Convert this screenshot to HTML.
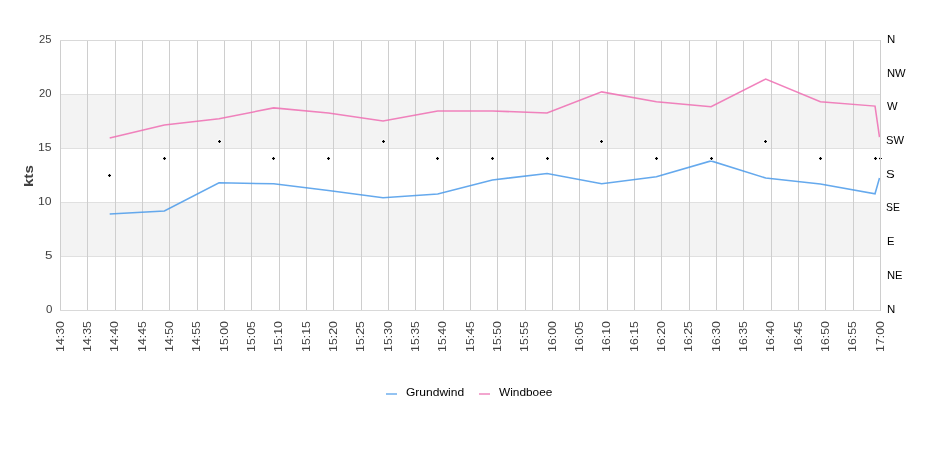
<!DOCTYPE html>
<html><head><meta charset="utf-8"><style>html,body{margin:0;padding:0;background:#fff;overflow:hidden}svg{display:block;will-change:transform}</style></head>
<body><svg width="940" height="450" viewBox="0 0 940 450"><rect x="0" y="0" width="940" height="450" fill="#fff"/>
<rect x="60" y="95" width="820" height="53" fill="#f3f3f3"/>
<rect x="60" y="203" width="820" height="53" fill="#f3f3f3"/>
<rect x="60" y="94" width="821" height="1" fill="#e0e0e0"/>
<rect x="60" y="148" width="821" height="1" fill="#e0e0e0"/>
<rect x="60" y="202" width="821" height="1" fill="#e0e0e0"/>
<rect x="60" y="256" width="821" height="1" fill="#e0e0e0"/>
<rect x="60" y="40" width="1" height="271" fill="#cecece"/>
<rect x="87" y="40" width="1" height="271" fill="#cecece"/>
<rect x="115" y="40" width="1" height="271" fill="#cecece"/>
<rect x="142" y="40" width="1" height="271" fill="#cecece"/>
<rect x="169" y="40" width="1" height="271" fill="#cecece"/>
<rect x="197" y="40" width="1" height="271" fill="#cecece"/>
<rect x="224" y="40" width="1" height="271" fill="#cecece"/>
<rect x="251" y="40" width="1" height="271" fill="#cecece"/>
<rect x="279" y="40" width="1" height="271" fill="#cecece"/>
<rect x="306" y="40" width="1" height="271" fill="#cecece"/>
<rect x="333" y="40" width="1" height="271" fill="#cecece"/>
<rect x="361" y="40" width="1" height="271" fill="#cecece"/>
<rect x="388" y="40" width="1" height="271" fill="#cecece"/>
<rect x="415" y="40" width="1" height="271" fill="#cecece"/>
<rect x="443" y="40" width="1" height="271" fill="#cecece"/>
<rect x="470" y="40" width="1" height="271" fill="#cecece"/>
<rect x="497" y="40" width="1" height="271" fill="#cecece"/>
<rect x="525" y="40" width="1" height="271" fill="#cecece"/>
<rect x="552" y="40" width="1" height="271" fill="#cecece"/>
<rect x="579" y="40" width="1" height="271" fill="#cecece"/>
<rect x="607" y="40" width="1" height="271" fill="#cecece"/>
<rect x="634" y="40" width="1" height="271" fill="#cecece"/>
<rect x="661" y="40" width="1" height="271" fill="#cecece"/>
<rect x="689" y="40" width="1" height="271" fill="#cecece"/>
<rect x="716" y="40" width="1" height="271" fill="#cecece"/>
<rect x="743" y="40" width="1" height="271" fill="#cecece"/>
<rect x="771" y="40" width="1" height="271" fill="#cecece"/>
<rect x="798" y="40" width="1" height="271" fill="#cecece"/>
<rect x="825" y="40" width="1" height="271" fill="#cecece"/>
<rect x="853" y="40" width="1" height="271" fill="#cecece"/>
<rect x="880" y="40" width="1" height="271" fill="#cecece"/>
<rect x="60" y="40" width="821" height="1" fill="#d9d9d9"/>
<rect x="60" y="310" width="821" height="1" fill="#d9d9d9"/>
<polyline points="109.70,213.90 164.37,210.90 219.03,182.80 273.70,183.80 328.37,190.60 383.03,197.80 437.70,194.00 492.37,179.90 547.03,173.60 601.70,183.70 656.37,176.70 711.03,160.90 765.70,178.00 820.37,183.90 875.03,193.80 879.50,178.00" fill="none" stroke="#4a9aea" stroke-width="1.55" stroke-linejoin="miter" stroke-opacity="0.85"/>
<polyline points="109.70,138.00 164.37,124.90 219.03,118.80 273.70,107.90 328.37,112.90 383.03,121.00 437.70,111.00 492.37,111.00 547.03,112.90 601.70,91.90 656.37,101.80 711.03,106.70 765.70,79.10 820.37,101.80 875.03,106.10 879.50,137.20" fill="none" stroke="#ee6cb2" stroke-width="1.55" stroke-linejoin="miter" stroke-opacity="0.85"/>
<circle cx="109.5" cy="175.5" r="2.4" fill="#fff" opacity="0.7"/>
<path d="M108.0 175.0h3v1h-3z M109.0 174.0h1v3h-1z" fill="#000"/>
<path d="M108.0 174.0h1v1h-1z M110.0 174.0h1v1h-1z M108.0 176.0h1v1h-1z M110.0 176.0h1v1h-1z" fill="#000" opacity="0.15"/>
<circle cx="164.5" cy="158.5" r="2.4" fill="#fff" opacity="0.7"/>
<path d="M163.0 158.0h3v1h-3z M164.0 157.0h1v3h-1z" fill="#000"/>
<path d="M163.0 157.0h1v1h-1z M165.0 157.0h1v1h-1z M163.0 159.0h1v1h-1z M165.0 159.0h1v1h-1z" fill="#000" opacity="0.15"/>
<circle cx="219.5" cy="141.5" r="2.4" fill="#fff" opacity="0.7"/>
<path d="M218.0 141.0h3v1h-3z M219.0 140.0h1v3h-1z" fill="#000"/>
<path d="M218.0 140.0h1v1h-1z M220.0 140.0h1v1h-1z M218.0 142.0h1v1h-1z M220.0 142.0h1v1h-1z" fill="#000" opacity="0.15"/>
<circle cx="273.5" cy="158.5" r="2.4" fill="#fff" opacity="0.7"/>
<path d="M272.0 158.0h3v1h-3z M273.0 157.0h1v3h-1z" fill="#000"/>
<path d="M272.0 157.0h1v1h-1z M274.0 157.0h1v1h-1z M272.0 159.0h1v1h-1z M274.0 159.0h1v1h-1z" fill="#000" opacity="0.15"/>
<circle cx="328.5" cy="158.5" r="2.4" fill="#fff" opacity="0.7"/>
<path d="M327.0 158.0h3v1h-3z M328.0 157.0h1v3h-1z" fill="#000"/>
<path d="M327.0 157.0h1v1h-1z M329.0 157.0h1v1h-1z M327.0 159.0h1v1h-1z M329.0 159.0h1v1h-1z" fill="#000" opacity="0.15"/>
<circle cx="383.5" cy="141.5" r="2.4" fill="#fff" opacity="0.7"/>
<path d="M382.0 141.0h3v1h-3z M383.0 140.0h1v3h-1z" fill="#000"/>
<path d="M382.0 140.0h1v1h-1z M384.0 140.0h1v1h-1z M382.0 142.0h1v1h-1z M384.0 142.0h1v1h-1z" fill="#000" opacity="0.15"/>
<circle cx="437.5" cy="158.5" r="2.4" fill="#fff" opacity="0.7"/>
<path d="M436.0 158.0h3v1h-3z M437.0 157.0h1v3h-1z" fill="#000"/>
<path d="M436.0 157.0h1v1h-1z M438.0 157.0h1v1h-1z M436.0 159.0h1v1h-1z M438.0 159.0h1v1h-1z" fill="#000" opacity="0.15"/>
<circle cx="492.5" cy="158.5" r="2.4" fill="#fff" opacity="0.7"/>
<path d="M491.0 158.0h3v1h-3z M492.0 157.0h1v3h-1z" fill="#000"/>
<path d="M491.0 157.0h1v1h-1z M493.0 157.0h1v1h-1z M491.0 159.0h1v1h-1z M493.0 159.0h1v1h-1z" fill="#000" opacity="0.15"/>
<circle cx="547.5" cy="158.5" r="2.4" fill="#fff" opacity="0.7"/>
<path d="M546.0 158.0h3v1h-3z M547.0 157.0h1v3h-1z" fill="#000"/>
<path d="M546.0 157.0h1v1h-1z M548.0 157.0h1v1h-1z M546.0 159.0h1v1h-1z M548.0 159.0h1v1h-1z" fill="#000" opacity="0.15"/>
<circle cx="601.5" cy="141.5" r="2.4" fill="#fff" opacity="0.7"/>
<path d="M600.0 141.0h3v1h-3z M601.0 140.0h1v3h-1z" fill="#000"/>
<path d="M600.0 140.0h1v1h-1z M602.0 140.0h1v1h-1z M600.0 142.0h1v1h-1z M602.0 142.0h1v1h-1z" fill="#000" opacity="0.15"/>
<circle cx="656.5" cy="158.5" r="2.4" fill="#fff" opacity="0.7"/>
<path d="M655.0 158.0h3v1h-3z M656.0 157.0h1v3h-1z" fill="#000"/>
<path d="M655.0 157.0h1v1h-1z M657.0 157.0h1v1h-1z M655.0 159.0h1v1h-1z M657.0 159.0h1v1h-1z" fill="#000" opacity="0.15"/>
<circle cx="711.5" cy="158.5" r="2.4" fill="#fff" opacity="0.7"/>
<path d="M710.0 158.0h3v1h-3z M711.0 157.0h1v3h-1z" fill="#000"/>
<path d="M710.0 157.0h1v1h-1z M712.0 157.0h1v1h-1z M710.0 159.0h1v1h-1z M712.0 159.0h1v1h-1z" fill="#000" opacity="0.15"/>
<circle cx="765.5" cy="141.5" r="2.4" fill="#fff" opacity="0.7"/>
<path d="M764.0 141.0h3v1h-3z M765.0 140.0h1v3h-1z" fill="#000"/>
<path d="M764.0 140.0h1v1h-1z M766.0 140.0h1v1h-1z M764.0 142.0h1v1h-1z M766.0 142.0h1v1h-1z" fill="#000" opacity="0.15"/>
<circle cx="820.5" cy="158.5" r="2.4" fill="#fff" opacity="0.7"/>
<path d="M819.0 158.0h3v1h-3z M820.0 157.0h1v3h-1z" fill="#000"/>
<path d="M819.0 157.0h1v1h-1z M821.0 157.0h1v1h-1z M819.0 159.0h1v1h-1z M821.0 159.0h1v1h-1z" fill="#000" opacity="0.15"/>
<circle cx="875.5" cy="158.5" r="2.4" fill="#fff" opacity="0.7"/>
<path d="M874.0 158.0h3v1h-3z M875.0 157.0h1v3h-1z" fill="#000"/>
<path d="M874.0 157.0h1v1h-1z M876.0 157.0h1v1h-1z M874.0 159.0h1v1h-1z M876.0 159.0h1v1h-1z" fill="#000" opacity="0.15"/>
<circle cx="880.5" cy="158.5" r="2.4" fill="#fff" opacity="0.7"/>
<path d="M879.0 158.0h3v1h-3z M880.0 157.0h1v3h-1z" fill="#000"/>
<path d="M879.0 157.0h1v1h-1z M881.0 157.0h1v1h-1z M879.0 159.0h1v1h-1z M881.0 159.0h1v1h-1z" fill="#000" opacity="0.15"/>
<rect x="880" y="40" width="1" height="271" fill="#cecece"/>
<rect x="881" y="150" width="6" height="20" fill="#fff"/>
<path d="M881 158h1v1h-1z" fill="#000"/>
<text x="51.50" y="43.00" font-family="Liberation Sans, sans-serif" font-size="11.2" fill="#404040" text-anchor="end">25</text>
<text x="51.50" y="97.00" font-family="Liberation Sans, sans-serif" font-size="11.2" fill="#404040" text-anchor="end">20</text>
<text x="51.50" y="151.00" font-family="Liberation Sans, sans-serif" font-size="11.2" fill="#404040" text-anchor="end" textLength="13.59" lengthAdjust="spacingAndGlyphs">15</text>
<text x="51.50" y="205.00" font-family="Liberation Sans, sans-serif" font-size="11.2" fill="#404040" text-anchor="end" textLength="13.59" lengthAdjust="spacingAndGlyphs">10</text>
<text x="52.50" y="259.00" font-family="Liberation Sans, sans-serif" font-size="11.2" fill="#404040" text-anchor="end" textLength="7.48" lengthAdjust="spacingAndGlyphs">5</text>
<text x="52.50" y="313.00" font-family="Liberation Sans, sans-serif" font-size="11.2" fill="#404040" text-anchor="end" textLength="6.41" lengthAdjust="spacingAndGlyphs">0</text>
<text x="887.00" y="43.00" font-family="Liberation Sans, sans-serif" font-size="11.2" fill="#000" textLength="8.26" lengthAdjust="spacingAndGlyphs">N</text>
<text x="887.00" y="76.75" font-family="Liberation Sans, sans-serif" font-size="11.2" fill="#000">NW</text>
<text x="887.00" y="109.50" font-family="Liberation Sans, sans-serif" font-size="11.2" fill="#000">W</text>
<text x="886.00" y="144.25" font-family="Liberation Sans, sans-serif" font-size="11.2" fill="#000">SW</text>
<text x="886.00" y="178.00" font-family="Liberation Sans, sans-serif" font-size="11.2" fill="#000" textLength="8.71" lengthAdjust="spacingAndGlyphs">S</text>
<text x="886.00" y="210.75" font-family="Liberation Sans, sans-serif" font-size="11.2" fill="#000" textLength="13.87" lengthAdjust="spacingAndGlyphs">SE</text>
<text x="887.00" y="244.50" font-family="Liberation Sans, sans-serif" font-size="11.2" fill="#000">E</text>
<text x="887.00" y="279.25" font-family="Liberation Sans, sans-serif" font-size="11.2" fill="#000">NE</text>
<text x="887.00" y="313.00" font-family="Liberation Sans, sans-serif" font-size="11.2" fill="#000" textLength="8.26" lengthAdjust="spacingAndGlyphs">N</text>
<text transform="translate(63.50,321.00) rotate(-90)" font-family="Liberation Sans, sans-serif" font-size="11.2" fill="#404040" text-anchor="end" textLength="31.00" lengthAdjust="spacingAndGlyphs">14:30</text>
<text transform="translate(90.83,321.00) rotate(-90)" font-family="Liberation Sans, sans-serif" font-size="11.2" fill="#404040" text-anchor="end" textLength="31.00" lengthAdjust="spacingAndGlyphs">14:35</text>
<text transform="translate(118.17,321.00) rotate(-90)" font-family="Liberation Sans, sans-serif" font-size="11.2" fill="#404040" text-anchor="end" textLength="31.00" lengthAdjust="spacingAndGlyphs">14:40</text>
<text transform="translate(145.50,321.00) rotate(-90)" font-family="Liberation Sans, sans-serif" font-size="11.2" fill="#404040" text-anchor="end" textLength="31.00" lengthAdjust="spacingAndGlyphs">14:45</text>
<text transform="translate(172.83,321.00) rotate(-90)" font-family="Liberation Sans, sans-serif" font-size="11.2" fill="#404040" text-anchor="end" textLength="31.00" lengthAdjust="spacingAndGlyphs">14:50</text>
<text transform="translate(200.17,321.00) rotate(-90)" font-family="Liberation Sans, sans-serif" font-size="11.2" fill="#404040" text-anchor="end" textLength="31.00" lengthAdjust="spacingAndGlyphs">14:55</text>
<text transform="translate(227.50,321.00) rotate(-90)" font-family="Liberation Sans, sans-serif" font-size="11.2" fill="#404040" text-anchor="end" textLength="31.00" lengthAdjust="spacingAndGlyphs">15:00</text>
<text transform="translate(254.83,321.00) rotate(-90)" font-family="Liberation Sans, sans-serif" font-size="11.2" fill="#404040" text-anchor="end" textLength="31.00" lengthAdjust="spacingAndGlyphs">15:05</text>
<text transform="translate(282.17,321.00) rotate(-90)" font-family="Liberation Sans, sans-serif" font-size="11.2" fill="#404040" text-anchor="end" textLength="31.00" lengthAdjust="spacingAndGlyphs">15:10</text>
<text transform="translate(309.50,321.00) rotate(-90)" font-family="Liberation Sans, sans-serif" font-size="11.2" fill="#404040" text-anchor="end" textLength="31.00" lengthAdjust="spacingAndGlyphs">15:15</text>
<text transform="translate(336.83,321.00) rotate(-90)" font-family="Liberation Sans, sans-serif" font-size="11.2" fill="#404040" text-anchor="end" textLength="31.00" lengthAdjust="spacingAndGlyphs">15:20</text>
<text transform="translate(364.17,321.00) rotate(-90)" font-family="Liberation Sans, sans-serif" font-size="11.2" fill="#404040" text-anchor="end" textLength="31.00" lengthAdjust="spacingAndGlyphs">15:25</text>
<text transform="translate(391.50,321.00) rotate(-90)" font-family="Liberation Sans, sans-serif" font-size="11.2" fill="#404040" text-anchor="end" textLength="31.00" lengthAdjust="spacingAndGlyphs">15:30</text>
<text transform="translate(418.83,321.00) rotate(-90)" font-family="Liberation Sans, sans-serif" font-size="11.2" fill="#404040" text-anchor="end" textLength="31.00" lengthAdjust="spacingAndGlyphs">15:35</text>
<text transform="translate(446.17,321.00) rotate(-90)" font-family="Liberation Sans, sans-serif" font-size="11.2" fill="#404040" text-anchor="end" textLength="31.00" lengthAdjust="spacingAndGlyphs">15:40</text>
<text transform="translate(473.50,321.00) rotate(-90)" font-family="Liberation Sans, sans-serif" font-size="11.2" fill="#404040" text-anchor="end" textLength="31.00" lengthAdjust="spacingAndGlyphs">15:45</text>
<text transform="translate(500.83,321.00) rotate(-90)" font-family="Liberation Sans, sans-serif" font-size="11.2" fill="#404040" text-anchor="end" textLength="31.00" lengthAdjust="spacingAndGlyphs">15:50</text>
<text transform="translate(528.17,321.00) rotate(-90)" font-family="Liberation Sans, sans-serif" font-size="11.2" fill="#404040" text-anchor="end" textLength="31.00" lengthAdjust="spacingAndGlyphs">15:55</text>
<text transform="translate(555.50,321.00) rotate(-90)" font-family="Liberation Sans, sans-serif" font-size="11.2" fill="#404040" text-anchor="end" textLength="31.00" lengthAdjust="spacingAndGlyphs">16:00</text>
<text transform="translate(582.83,321.00) rotate(-90)" font-family="Liberation Sans, sans-serif" font-size="11.2" fill="#404040" text-anchor="end" textLength="31.00" lengthAdjust="spacingAndGlyphs">16:05</text>
<text transform="translate(610.17,321.00) rotate(-90)" font-family="Liberation Sans, sans-serif" font-size="11.2" fill="#404040" text-anchor="end" textLength="31.00" lengthAdjust="spacingAndGlyphs">16:10</text>
<text transform="translate(637.50,321.00) rotate(-90)" font-family="Liberation Sans, sans-serif" font-size="11.2" fill="#404040" text-anchor="end" textLength="31.00" lengthAdjust="spacingAndGlyphs">16:15</text>
<text transform="translate(664.83,321.00) rotate(-90)" font-family="Liberation Sans, sans-serif" font-size="11.2" fill="#404040" text-anchor="end" textLength="31.00" lengthAdjust="spacingAndGlyphs">16:20</text>
<text transform="translate(692.17,321.00) rotate(-90)" font-family="Liberation Sans, sans-serif" font-size="11.2" fill="#404040" text-anchor="end" textLength="31.00" lengthAdjust="spacingAndGlyphs">16:25</text>
<text transform="translate(719.50,321.00) rotate(-90)" font-family="Liberation Sans, sans-serif" font-size="11.2" fill="#404040" text-anchor="end" textLength="31.00" lengthAdjust="spacingAndGlyphs">16:30</text>
<text transform="translate(746.83,321.00) rotate(-90)" font-family="Liberation Sans, sans-serif" font-size="11.2" fill="#404040" text-anchor="end" textLength="31.00" lengthAdjust="spacingAndGlyphs">16:35</text>
<text transform="translate(774.17,321.00) rotate(-90)" font-family="Liberation Sans, sans-serif" font-size="11.2" fill="#404040" text-anchor="end" textLength="31.00" lengthAdjust="spacingAndGlyphs">16:40</text>
<text transform="translate(801.50,321.00) rotate(-90)" font-family="Liberation Sans, sans-serif" font-size="11.2" fill="#404040" text-anchor="end" textLength="31.00" lengthAdjust="spacingAndGlyphs">16:45</text>
<text transform="translate(828.83,321.00) rotate(-90)" font-family="Liberation Sans, sans-serif" font-size="11.2" fill="#404040" text-anchor="end" textLength="31.00" lengthAdjust="spacingAndGlyphs">16:50</text>
<text transform="translate(856.17,321.00) rotate(-90)" font-family="Liberation Sans, sans-serif" font-size="11.2" fill="#404040" text-anchor="end" textLength="31.00" lengthAdjust="spacingAndGlyphs">16:55</text>
<text transform="translate(883.50,321.00) rotate(-90)" font-family="Liberation Sans, sans-serif" font-size="11.2" fill="#404040" text-anchor="end" textLength="31.00" lengthAdjust="spacingAndGlyphs">17:00</text>
<text transform="translate(33.00,176.10) rotate(-90)" font-family="Liberation Sans, sans-serif" font-size="12" font-weight="bold" fill="#404040" text-anchor="middle" textLength="22.00" lengthAdjust="spacingAndGlyphs">kts</text>
<rect x="386" y="393" width="11" height="2" fill="#93c3f2"/>
<rect x="479" y="393" width="11" height="2" fill="#f3a6cf"/>
<text x="406.00" y="396.00" font-family="Liberation Sans, sans-serif" font-size="11.2" fill="#000" textLength="58.12" lengthAdjust="spacingAndGlyphs">Grundwind</text>
<text x="499.00" y="396.00" font-family="Liberation Sans, sans-serif" font-size="11.2" fill="#000" textLength="53.41" lengthAdjust="spacingAndGlyphs">Windboee</text></svg></body></html>
